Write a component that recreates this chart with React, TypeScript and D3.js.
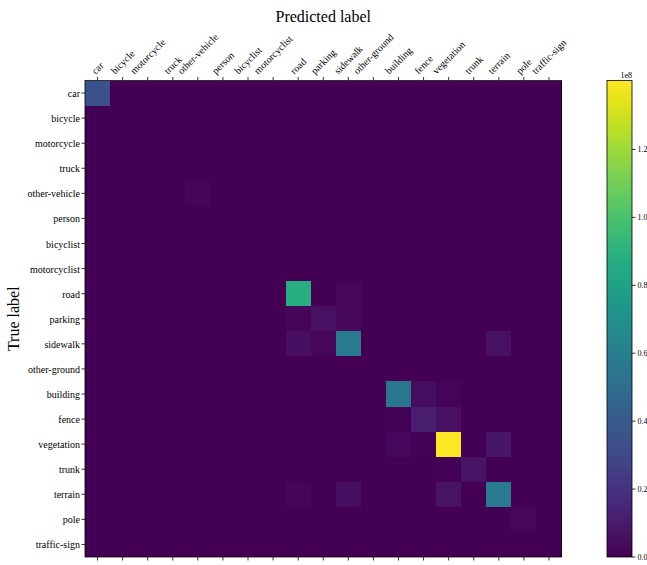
import React from "react";
import * as d3 from "d3";

// Class names of the confusion matrix (rows: true label, columns: predicted label)
const classes = [
  "car", "bicycle", "motorcycle", "truck", "other-vehicle", "person", "bicyclist",
  "motorcyclist", "road", "parking", "sidewalk", "other-ground", "building", "fence",
  "vegetation", "trunk", "terrain", "pole", "traffic-sign",
];

// Non-zero confusion counts: [true index, predicted index, count]
const counts: [number, number, number][] = [
  [0, 0, 35000000],
  [4, 4, 1800000],
  [8, 8, 88000000], [8, 10, 2500000],
  [9, 8, 1800000], [9, 9, 6000000], [9, 10, 2200000],
  [10, 8, 5000000], [10, 9, 2500000], [10, 10, 57500000], [10, 16, 5500000],
  [12, 12, 55000000], [12, 13, 4500000], [12, 14, 1500000],
  [13, 12, 1000000], [13, 13, 10500000], [13, 14, 5500000],
  [14, 12, 2800000], [14, 13, 1000000], [14, 14, 140300000], [14, 16, 8000000],
  [15, 14, 800000], [15, 15, 7000000],
  [16, 8, 1800000], [16, 10, 5000000], [16, 14, 7000000], [16, 16, 57000000],
  [17, 17, 2500000],
];

const colorbarTicks = [0, 0.2e8, 0.4e8, 0.6e8, 0.8e8, 1.0e8, 1.2e8];

const W = 647;
const H = 565;
const FONT = "'Liberation Serif', 'Times New Roman', serif";

const measureCanvas = typeof document !== "undefined" ? document.createElement("canvas") : null;
function textWidth(s: string, size: number): number {
  const ctx = measureCanvas ? measureCanvas.getContext("2d") : null;
  if (!ctx) return s.length * size * 0.45;
  ctx.font = `${size}px ${FONT}`;
  return ctx.measureText(s).width;
}

export default function App() {
  const n = classes.length;
  const matrix: number[][] = classes.map(() => classes.map(() => 0));
  counts.forEach(([r, c, v]) => (matrix[r][c] = v));
  const vmax = d3.max(counts, (d) => d[2]) as number;

  const left = 85, right = 561.5, top = 80.5, bottom = 557;
  const x = d3.scaleBand<number>().domain(d3.range(n)).range([left, right]);
  const y = d3.scaleBand<number>().domain(d3.range(n)).range([top, bottom]);
  const color = d3.scaleSequential(d3.interpolateViridis).domain([0, vmax]);

  const cbX = 607, cbW = 25;
  const cbY = d3.scaleLinear().domain([0, vmax]).range([bottom, top]);

  const fs = 10;
  const tickLen = 3.5;
  const gradStops = d3.range(0, 1.0001, 0.05);

  return (
    <svg width={W} height={H} style={{ position: "absolute", left: 0, top: 0, background: "#fff" }}
      fontFamily={FONT}>
      <defs>
        <linearGradient id="cbgrad" x1="0" y1="1" x2="0" y2="0">
          {gradStops.map((t) => (
            <stop key={t} offset={t} stopColor={d3.interpolateViridis(t)} />
          ))}
        </linearGradient>
      </defs>

      {/* heatmap cells */}
      <g shapeRendering="crispEdges">
        <rect x={left} y={top} width={right - left} height={bottom - top} fill={color(0)} />
        {matrix.map((row, r) =>
          row.map((v, c) =>
            v > 0 ? (
              <rect key={`${r}-${c}`} x={x(c)} y={y(r)} width={x.bandwidth()}
                height={y.bandwidth()} fill={color(v)} />
            ) : null
          )
        )}
      </g>
      <rect x={left} y={top} width={right - left} height={bottom - top} fill="none"
        stroke="#000" strokeWidth={0.8} />

      {/* top axis: ticks and rotated predicted-class labels */}
      <g>
        {classes.map((name, i) => {
          const cx = (x(i) as number) + x.bandwidth() / 2;
          const L = textWidth(name, fs);
          const h = fs * 1.1;
          const bboxH = (L + h) / Math.SQRT2;
          const bottomY = top - tickLen - 0.8;
          return (
            <g key={name}>
              <line x1={cx} x2={cx} y1={top} y2={top - tickLen} stroke="#000" strokeWidth={0.8} />
              <line x1={cx} x2={cx} y1={bottom} y2={bottom + tickLen} stroke="#000" strokeWidth={0.8} />
              <text transform={`translate(${cx},${bottomY - bboxH / 2}) rotate(-45)`}
                textAnchor="middle" dominantBaseline="central" fontSize={fs}>
                {name}
              </text>
            </g>
          );
        })}
      </g>

      {/* left axis: ticks and true-class labels */}
      <g>
        {classes.map((name, i) => {
          const cy = (y(i) as number) + y.bandwidth() / 2;
          return (
            <g key={name}>
              <line x1={left} x2={left - tickLen} y1={cy} y2={cy} stroke="#000" strokeWidth={0.8} />
              <text x={left - tickLen - 1.5} y={cy + 0.5} textAnchor="end" dominantBaseline="central"
                fontSize={fs}>
                {name}
              </text>
            </g>
          );
        })}
      </g>

      {/* axis titles */}
      <text x={(left + right) / 2} y={22} textAnchor="middle" fontSize={16}>Predicted label</text>
      <text transform={`translate(19,${(top + bottom) / 2}) rotate(-90)`} textAnchor="middle"
        fontSize={16}>True label</text>

      {/* colorbar */}
      <rect x={cbX} y={top} width={cbW} height={bottom - top} fill="url(#cbgrad)" stroke="#000"
        strokeWidth={0.8} />
      {colorbarTicks.map((t) => (
        <g key={t}>
          <line x1={cbX + cbW} x2={cbX + cbW + tickLen} y1={cbY(t)} y2={cbY(t)} stroke="#000"
            strokeWidth={0.8} />
          <text x={cbX + cbW + tickLen + 2} y={cbY(t)} dominantBaseline="central" fontSize={8}>
            {(t / 1e8).toFixed(1)}
          </text>
        </g>
      ))}
      <text x={cbX + cbW} y={top - 3} textAnchor="end" fontSize={8}>1e8</text>
    </svg>
  );
}
